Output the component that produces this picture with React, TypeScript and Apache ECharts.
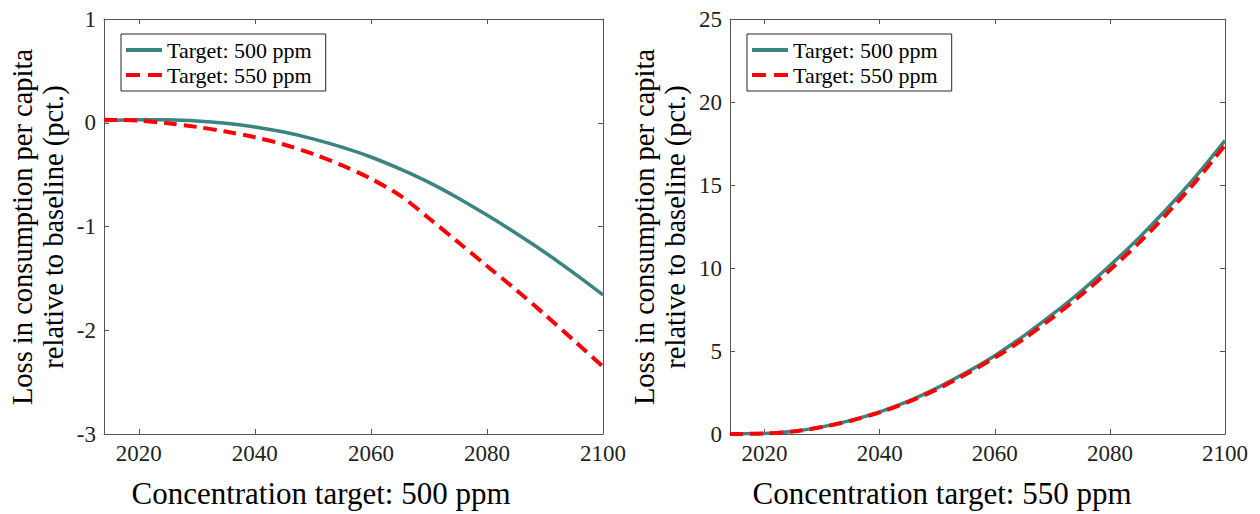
import React, { useEffect, useRef } from "react";
import * as echarts from "echarts";

const years = [2014, 2020, 2025, 2030, 2035, 2040, 2045, 2050, 2055, 2060, 2065, 2070, 2075, 2080, 2085, 2090, 2095, 2100];

// Left panel: concentration target 500 ppm
const left500 = [0.02, 0.03, 0.029, 0.018, -0.005, -0.04, -0.09, -0.155, -0.235, -0.33, -0.445, -0.575, -0.725, -0.89, -1.065, -1.25, -1.45, -1.66];
const left550 = [0.03, 0.02, -0.005, -0.04, -0.085, -0.14, -0.21, -0.3, -0.41, -0.54, -0.7, -0.92, -1.15, -1.38, -1.61, -1.85, -2.1, -2.35];

// Right panel: concentration target 550 ppm
const right500 = [0.02, 0.03, 0.16, 0.43, 0.82, 1.33, 1.98, 2.78, 3.7, 4.72, 5.9, 7.2, 8.6, 10.15, 11.8, 13.6, 15.55, 17.67];
const right550 = [0.0, 0.03, 0.15, 0.42, 0.8, 1.3, 1.93, 2.7, 3.6, 4.6, 5.72, 7.0, 8.37, 9.88, 11.5, 13.3, 15.25, 17.4];

const xTicks = [2020, 2040, 2060, 2080, 2100];
const seriesNames = ["Target: 500 ppm", "Target: 550 ppm"];
const panelTitles = ["Concentration target: 500 ppm", "Concentration target: 550 ppm"];
const yTitle = "Loss in consumption per capita\nrelative to baseline (pct.)";

const FONT = "Liberation Serif";
const TEAL = "#3b8581";
const RED = "#ff0000";
const AXIS = "#555555";

export default function App() {
  const ref = useRef<HTMLDivElement>(null);

  useEffect(() => {
    if (!ref.current) return;
    const chart = echarts.init(ref.current, null, { renderer: "svg" });

    const grids = [
      { left: 104, top: 19, width: 499, height: 415 },
      { left: 730, top: 19, width: 495, height: 415 },
    ];
    const yRanges = [
      { min: -3, max: 1, interval: 1 },
      { min: 0, max: 25, interval: 5 },
    ];

    const xAxes: any[] = [];
    const yAxes: any[] = [];
    grids.forEach((_, g) => {
      xAxes.push({
        type: "value",
        gridIndex: g,
        min: 2014,
        max: 2100,
        position: "bottom",
        splitLine: { show: false },
        axisLine: { show: true, onZero: false, lineStyle: { color: AXIS, width: 1 } },
        axisTick: { show: true, inside: true, length: 5, customValues: xTicks, lineStyle: { color: AXIS } },
        axisLabel: {
          show: true,
          customValues: xTicks,
          margin: 8,
          color: "#222",
          fontSize: 23,
          fontFamily: FONT,
          formatter: (v: number) => String(v),
        },
      });
      xAxes.push({
        type: "value",
        gridIndex: g,
        min: 2014,
        max: 2100,
        position: "top",
        splitLine: { show: false },
        axisLine: { show: true, onZero: false, lineStyle: { color: AXIS, width: 1 } },
        axisTick: { show: true, inside: true, length: 5, customValues: xTicks, lineStyle: { color: AXIS } },
        axisLabel: { show: false },
      });
      yAxes.push({
        type: "value",
        gridIndex: g,
        ...yRanges[g],
        position: "left",
        splitLine: { show: false },
        axisLine: { show: true, onZero: false, lineStyle: { color: AXIS, width: 1 } },
        axisTick: { show: true, inside: true, length: 5, lineStyle: { color: AXIS } },
        axisLabel: { show: true, margin: 8, color: "#222", fontSize: 23, fontFamily: FONT, formatter: (v: number) => String(v) },
      });
      yAxes.push({
        type: "value",
        gridIndex: g,
        ...yRanges[g],
        position: "right",
        splitLine: { show: false },
        axisLine: { show: true, onZero: false, lineStyle: { color: AXIS, width: 1 } },
        axisTick: { show: true, inside: true, length: 5, lineStyle: { color: AXIS } },
        axisLabel: { show: false },
      });
    });

    const mk = (vals: number[]) => years.map((y, i) => [y, vals[i]]);
    const panelData = [
      [left500, left550],
      [right500, right550],
    ];

    const series: any[] = [];
    panelData.forEach((pair, g) => {
      series.push({
        name: seriesNames[0],
        type: "line",
        xAxisIndex: g * 2,
        yAxisIndex: g * 2,
        data: mk(pair[0]),
        smooth: 0.3,
        showSymbol: false,
        symbol: "none",
        color: TEAL,
        lineStyle: { color: TEAL, width: 3.5 },
        z: 2,
      });
      series.push({
        name: seriesNames[1],
        type: "line",
        xAxisIndex: g * 2,
        yAxisIndex: g * 2,
        data: mk(pair[1]),
        smooth: 0.3,
        showSymbol: false,
        symbol: "none",
        color: RED,
        lineStyle: { color: RED, width: 4, type: [13, 7] },
        z: 3,
      });
    });

    const legendFor = (left: number) => ({
      orient: "vertical",
      left,
      top: 34,
      itemWidth: 36,
      itemHeight: 4,
      itemGap: 3,
      padding: [5, 14, 5, 5],
      borderColor: "#262626",
      borderWidth: 1,
      backgroundColor: "#ffffff",
      selectedMode: false,
      textStyle: { fontFamily: FONT, fontSize: 22, color: "#000" },
      data: [
        { name: seriesNames[0], icon: "path://M0,0h36v4h-36z" },
        { name: seriesNames[1], icon: "path://M0,0h14v4h-14z M22,0h14v4h-14z" },
      ],
    });

    const titleTexts: any[] = [];
    const xTitleX = [321, 942];
    const yTitleX = [38, 660];
    [0, 1].forEach((g) => {
      titleTexts.push({
        type: "text",
        x: xTitleX[g],
        y: 493,
        style: {
          text: panelTitles[g],
          fontFamily: FONT,
          fontSize: 31,
          fill: "#000",
          textAlign: "center",
          textVerticalAlign: "middle",
        },
      });
      titleTexts.push({
        type: "text",
        x: yTitleX[g],
        y: 227,
        rotation: Math.PI / 2,
        style: {
          text: yTitle,
          fontFamily: FONT,
          fontSize: 28.5,
          lineHeight: 31,
          fill: "#000",
          textAlign: "center",
          textVerticalAlign: "middle",
        },
      });
    });

    chart.setOption({
      animation: false,
      backgroundColor: "#ffffff",
      textStyle: { fontFamily: FONT },
      grid: grids,
      xAxis: xAxes,
      yAxis: yAxes,
      legend: [legendFor(121), legendFor(747)],
      series,
      graphic: titleTexts,
    });

    return () => chart.dispose();
  }, []);

  return (
    <div
      ref={ref}
      style={{ position: "absolute", left: 0, top: 0, width: 1260, height: 514 }}
    />
  );
}
